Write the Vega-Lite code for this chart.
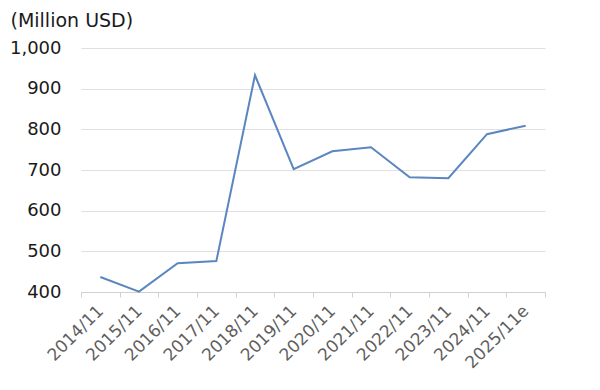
{
  "$schema": "https://vega.github.io/schema/vega-lite/v6.json",
  "width": 464,
  "height": 244,
  "autosize": {"type": "none"},
  "padding": {"left": 81, "top": 48, "right": 55, "bottom": 98},
  "background": "white",
  "config": {"view": {"stroke": null}, "font": "DejaVu Sans"},
  "data": {"values": [
    {"period": "2014/11", "value": 437},
    {"period": "2015/11", "value": 401},
    {"period": "2016/11", "value": 471},
    {"period": "2017/11", "value": 476},
    {"period": "2018/11", "value": 933},
    {"period": "2019/11", "value": 702},
    {"period": "2020/11", "value": 746},
    {"period": "2021/11", "value": 756},
    {"period": "2022/11", "value": 682},
    {"period": "2023/11", "value": 680},
    {"period": "2024/11", "value": 788},
    {"period": "2025/11e", "value": 809}
  ]},
  "mark": {"type": "line", "color": "#5b86bf", "strokeWidth": 2},
  "encoding": {
    "x": {
      "field": "period", "type": "ordinal", "sort": null,
      "bandPosition": 0.5,
      "scale": {"type": "band", "paddingInner": 0, "paddingOuter": 0},
      "axis": {
        "title": null, "labelAngle": -45, "labelAlign": "right", "labelBaseline": "middle",
        "labelFontSize": 17, "labelColor": "#5f5f5f", "labelPadding": 11,
        "tickBand": "extent", "tickSize": 5, "tickColor": "#d0d0d0", "domainColor": "#d0d0d0",
        "grid": false
      }
    },
    "y": {
      "field": "value", "type": "quantitative",
      "scale": {"domain": [400, 1000], "nice": false, "zero": false},
      "axis": {
        "values": [400, 500, 600, 700, 800, 900, 1000],
        "format": ",d",
        "title": "(Million USD)", "titleAngle": 0, "titleAlign": "left", "titleBaseline": "middle",
        "titleX": -71, "titleY": -28, "titleFontSize": 19, "titleFontWeight": "normal", "titleColor": "#1a1a1a",
        "labelFontSize": 18, "labelColor": "#1a1a1a", "labelPadding": 20,
        "domain": false, "ticks": false,
        "gridColor": "#e0e0e0", "gridWidth": 1
      }
    }
  }
}
